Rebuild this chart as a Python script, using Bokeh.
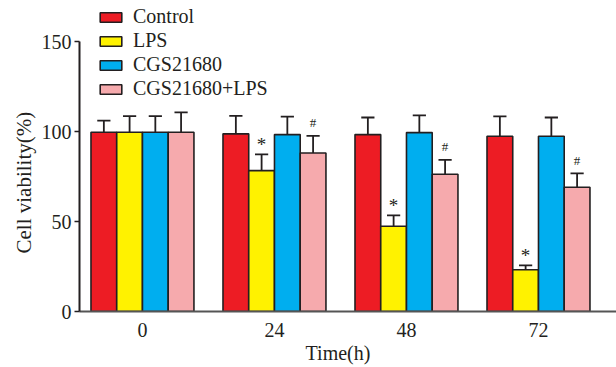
import numpy as np
from bokeh.plotting import figure
from bokeh.models import ColumnDataSource, Range1d, FixedTicker, Legend, LegendItem, Title
from bokeh.core.properties import value
from bokeh.embed import file_html
from bokeh.resources import INLINE

# ---- data ----
times = ["0", "24", "48", "72"]
groups = ["Control", "LPS", "CGS21680", "CGS21680+LPS"]
control = [99.6, 98.7, 98.3, 97.4]
control_err = [6.5, 10.0, 9.5, 11.0]
lps = [99.6, 78.3, 47.4, 23.2]
lps_err = [9.0, 9.0, 6.0, 2.4]
cgs = [99.6, 98.3, 99.4, 97.4]
cgs_err = [9.0, 10.0, 9.6, 10.4]
cgs_lps = [99.6, 88.1, 76.3, 69.0]
cgs_lps_err = [11.0, 9.5, 8.0, 7.8]
star_marks = ["", "*", "*", "*"]      # over LPS
hash_marks = ["", "#", "#", "#"]      # over CGS21680+LPS
yticks = [0, 50, 100, 150]

colors = ["#ED1C24", "#FFF200", "#00AEEF", "#F6AAAD"]
dark = "#231F20"
FONT = "Liberation Serif"

series = [control, lps, cgs, cgs_lps]
errors = [control_err, lps_err, cgs_err, cgs_lps_err]

bw = 0.195
offsets = [-1.5 * bw, -0.5 * bw, 0.5 * bw, 1.5 * bw]
idx = np.arange(len(times))

W, H = 616, 367
BL, BB = 79, 56
p = figure(width=W, height=H, output_backend="svg", toolbar_location=None,
           x_range=Range1d(-0.477, 3.591), y_range=Range1d(0, 172.8),
           min_border_left=BL, min_border_right=0, min_border_top=0,
           min_border_bottom=BB)
p.outline_line_color = None
p.xgrid.visible = False
p.ygrid.visible = False

items = []
for k, (vals, errs) in enumerate(zip(series, errors)):
    xs = idx + offsets[k]
    vals = np.array(vals)
    tops = vals + np.array(errs)
    src = ColumnDataSource(dict(x=xs, top=vals))
    r = p.vbar(x="x", top="top", width=bw, source=src, fill_color=colors[k],
               line_color=dark, line_width=1.6)
    items.append(LegendItem(label=groups[k], renderers=[r]))
    p.segment(x0=xs, y0=vals, x1=xs, y1=tops, line_color=dark, line_width=1.8)
    p.segment(x0=xs - 0.05, y0=tops, x1=xs + 0.05, y1=tops, line_color=dark, line_width=1.8)

# significance marks
lx = idx + offsets[1]
ly = np.array(lps) + np.array(lps_err)
p.text(x=lx, y=ly, text=star_marks, text_font=value(FONT), text_font_size="19px",
       text_color=dark, text_align="center", text_baseline="middle", y_offset=-10)
hx = idx + offsets[3]
hy = np.array(cgs_lps) + np.array(cgs_lps_err)
p.text(x=hx, y=hy, text=hash_marks, text_font=value(FONT), text_font_size="13px",
       text_color=dark, text_align="center", text_baseline="middle", y_offset=-13)

# axes
p.xaxis.ticker = FixedTicker(ticks=list(idx))
p.xaxis.major_label_overrides = {int(i): t for i, t in zip(idx, times)}
p.xaxis.major_tick_line_color = None
p.xaxis.minor_tick_line_color = None
p.xaxis.axis_line_color = "#555555"
p.xaxis.axis_line_width = 2
p.xaxis.major_label_standoff = 5
p.xaxis.axis_label = "Time(h)\u00a0\u00a0\u00a0\u00a0"
p.xaxis.axis_label_standoff = 2

p.yaxis.ticker = FixedTicker(ticks=yticks)
p.yaxis.bounds = (0, 150)
p.yaxis.minor_tick_line_color = None
p.yaxis.major_tick_out = 5
p.yaxis.major_tick_in = 0
p.yaxis.major_tick_line_color = dark
p.yaxis.major_tick_line_width = 1.5
p.yaxis.axis_line_color = dark
p.yaxis.axis_line_width = 2
p.yaxis.major_label_standoff = 3

for ax in (p.xaxis, p.yaxis):
    ax.major_label_text_font = FONT
    ax.major_label_text_font_size = "20px"
    ax.major_label_text_color = dark
    ax.axis_label_text_font = FONT
    ax.axis_label_text_font_size = "20px"
    ax.axis_label_text_font_style = "normal"
    ax.axis_label_text_color = dark

ytitle = Title(text="Cell viability(%)", align="left", offset=58, standoff=6,
               text_font=FONT, text_font_size="21px", text_font_style="normal",
               text_color=dark)
p.add_layout(ytitle, "left")

legend = Legend(items=items, location=(18, 211), orientation="vertical",
                glyph_width=27, glyph_height=12,
                label_height=20, spacing=1, padding=0, margin=0,
                label_standoff=9, border_line_color=None,
                background_fill_alpha=0)
legend.label_text_font = FONT
legend.label_text_font_size = "20px"
legend.label_text_color = dark
p.add_layout(legend)

open("out.html", "w").write(file_html(p, INLINE))
